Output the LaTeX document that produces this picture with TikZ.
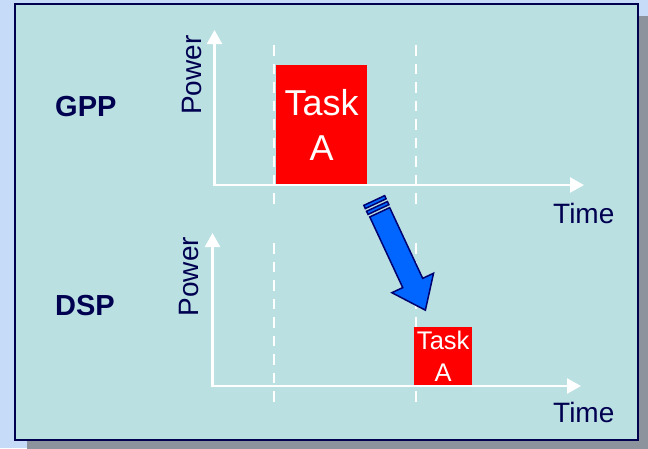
\documentclass[tikz,border=0pt]{standalone}
\usepackage{fontspec}
\setmainfont{Liberation Sans}
\usetikzlibrary{arrows.meta}
\definecolor{outerbg}{RGB}{197,219,247}
\definecolor{panelbg}{RGB}{186,224,226}
\definecolor{shadowgray}{RGB}{140,147,156}
\definecolor{navy}{RGB}{0,0,80}
\definecolor{arrowedge}{RGB}{0,0,110}
\definecolor{arrowblue}{RGB}{0,102,255}
\definecolor{taskred}{RGB}{255,0,0}

\begin{document}
\begin{tikzpicture}[x=1pt,y=-1pt,
  axis/.style={draw=white, line width=2.5pt, -{Triangle[width=15pt,length=14pt]}},
  guide/.style={draw=white, line width=2.5pt, dash pattern=on 10.5pt off 8pt},
  unitlabel/.style={text=navy, font=\fontsize{29}{34}\selectfont\bfseries, anchor=base west, inner sep=0pt},
  axislabel/.style={text=navy, font=\fontsize{28}{34}\selectfont, anchor=base west, inner sep=0pt},
  taskbox/.style={fill=taskred, text=white, inner sep=0pt, align=center, anchor=north west},
  taskbig/.style={taskbox, minimum width=91pt, minimum height=120pt, font=\fontsize{36}{45}\selectfont},
  tasksmall/.style={taskbox, minimum width=58pt, minimum height=59pt, font=\fontsize{25.5}{32}\selectfont},
  blockarrow/.style={fill=arrowblue, draw=arrowedge, line width=1.5pt, line join=miter}
]
\useasboundingbox (0,0) rectangle (648,448);

% page background, drop shadow and panel
\fill[outerbg] (0,0) rectangle (648,448);
\fill[shadowgray] (27,16) rectangle (650,450);
\draw[navy, line width=2pt, fill=panelbg] (15,4) rectangle (638,440);

% time markers
\coordinate (m1a) at (274,45);  \coordinate (m1b) at (274,206);
\coordinate (m1c) at (274,243); \coordinate (m1d) at (274,405);
\coordinate (m2a) at (416,45);  \coordinate (m2b) at (416,206);
\coordinate (m2c) at (416,243); \coordinate (m2d) at (416,405);
\draw[guide] (m1a) -- (m1b);
\draw[guide] (m1c) -- (m1d);
\draw[guide] (m2a) -- (m2b);
\draw[guide] (m2c) -- (m2d);

% task blocks
\node[taskbig] (taskgpp) at (276,65) {Task\\A};
\node[tasksmall] (taskdsp) at (414,327) {Task\\A};

% GPP chart axes
\coordinate (o1) at (214.5,185);
\coordinate (y1) at (214.5,30);
\coordinate (x1) at (584,185);
\draw[axis] ([yshift=1.25pt]o1) -- (y1);
\draw[axis] ([xshift=-1.25pt]o1) -- (x1);

% DSP chart axes
\coordinate (o2) at (212.5,386);
\coordinate (y2) at (212.5,233);
\coordinate (x2) at (581,386);
\draw[axis] ([yshift=1.25pt]o2) -- (y2);
\draw[axis] ([xshift=-1.25pt]o2) -- (x2);

% labels
\node[unitlabel] (gpp) at (55,116) {GPP};
\node[unitlabel] (dsp) at (55,315) {DSP};
\node[axislabel, rotate=90] (powergpp) at (201.5,115) {Power};
\node[axislabel, rotate=90] (powerdsp) at (198,316.5) {Power};
\node[axislabel] (timegpp) at (553,223) {Time};
\node[axislabel] (timedsp) at (553,422) {Time};

% migration arrow: two tail stripes, then the block arrow itself
\begin{scope}[shift={(381,215)}, rotate=-65]
  \draw[blockarrow] (-16,-11.5) rectangle (-12.5,11.5);
  \draw[blockarrow] (-9.5,-11.5) rectangle (-6,11.5);
  \draw[blockarrow] (-3,-11) -- (75,-11) -- (75,-23) -- (105,0)
    -- (75,23) -- (75,11) -- (-3,11) -- cycle;
\end{scope}
\end{tikzpicture}
\end{document}
